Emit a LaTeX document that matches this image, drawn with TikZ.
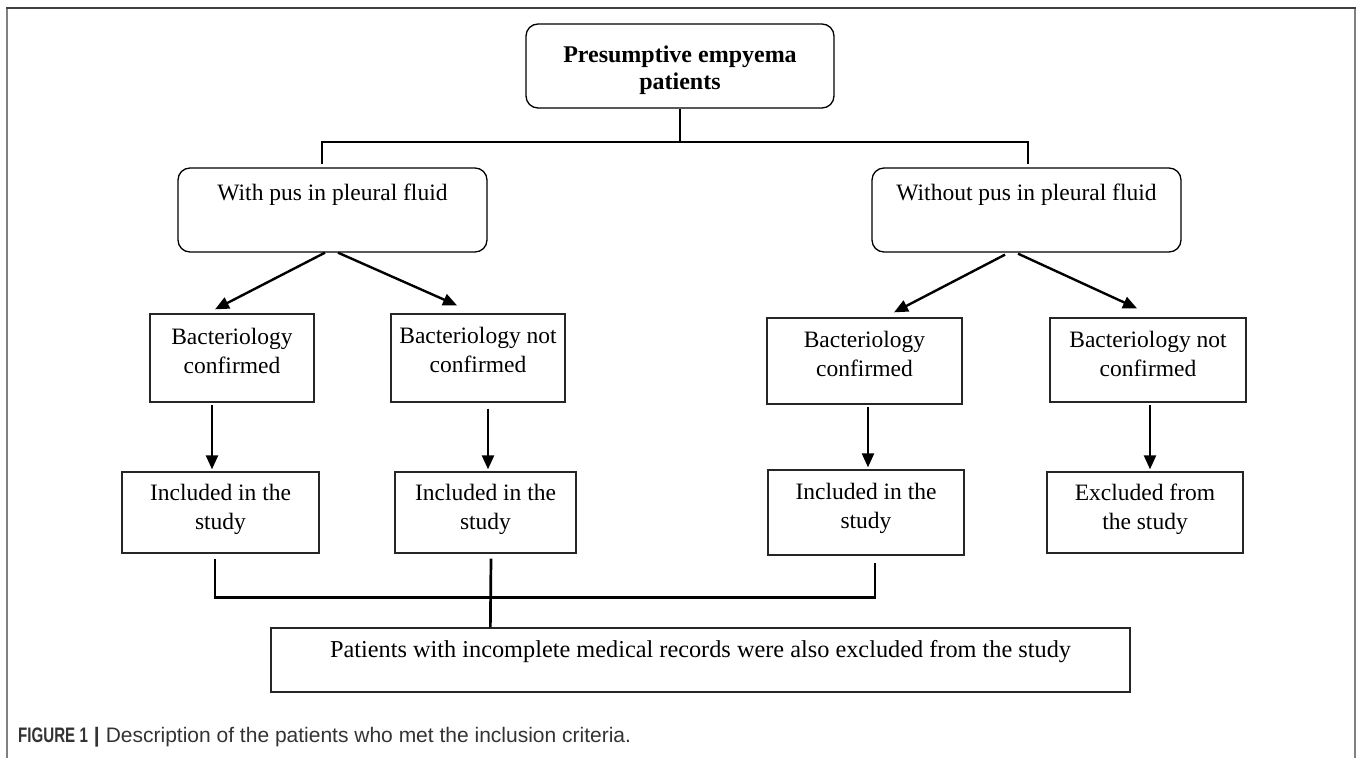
\documentclass[tikz,border=0pt]{standalone}
\usepackage{graphicx}
\usepackage{fontspec}
\setmainfont{Liberation Serif}
\newfontfamily\capfont{Liberation Sans}
\usetikzlibrary{arrows.meta,calc}
\begin{document}
\begin{tikzpicture}[x=1pt,y=-1pt,
  txt/.style={font=\fontsize{23.5}{29}\selectfont, align=center, inner sep=0pt, anchor=north},
  rbox/.style={draw=black, line width=1.3pt, rounded corners=12pt, inner sep=0pt},
  sbox/.style={draw=black!85, line width=1.3pt, inner sep=0pt},
  conn/.style={line width=2.7pt, black},
  arr/.style={line width=2.4pt, black, -{Triangle[length=14pt,width=12pt]}},
  frame/.style={line width=2pt, black!50}
]
\useasboundingbox (0,0) rectangle (1358,758);
% frame
\draw[frame] (7,758) -- (7,8);
\draw[frame] (1355,8) -- (1355,758);
\draw[line width=2pt, black!75] (6,8) -- (1356,8);

% top node
\node[rbox, minimum width=308pt, minimum height=84pt] (top) at (680,66) {};
\node[txt, font=\fontsize{24}{27}\selectfont\bfseries] (toptxt) at (680,46) {Presumptive empyema\\patients};

% middle nodes
\node[rbox, minimum width=309pt, minimum height=84pt] (mid1) at (332.5,210) {};
\node[txt] (mid1txt) at (332.5,184) {With pus in pleural fluid};
\node[rbox, minimum width=309pt, minimum height=84pt] (mid2) at (1026.5,210) {};
\node[txt] (mid2txt) at (1026.5,184) {Without pus in pleural fluid};

% level 3
\node[sbox, minimum width=164pt, minimum height=88pt] (b1) at (232,358) {};
\node[txt] (b1t) at (232,328) {Bacteriology\\confirmed};
\node[sbox, minimum width=174pt, minimum height=88pt] (b2) at (478,358) {};
\node[txt] (b2t) at (478,327) {Bacteriology not\\confirmed};
\node[sbox, minimum width=195pt, minimum height=86pt] (b3) at (864.5,361) {};
\node[txt] (b3t) at (864.5,331) {Bacteriology\\confirmed};
\node[sbox, minimum width=196pt, minimum height=84pt] (b4) at (1148,360) {};
\node[txt] (b4t) at (1148,331) {Bacteriology not\\confirmed};

% level 4
\node[sbox, minimum width=197pt, minimum height=81pt] (c1) at (220.5,512.5) {};
\node[txt] (c1t) at (220.5,484) {Included in the\\study};
\node[sbox, minimum width=181pt, minimum height=81pt] (c2) at (485.5,512.5) {};
\node[txt] (c2t) at (485.5,484) {Included in the\\study};
\node[sbox, minimum width=196pt, minimum height=85pt] (c3) at (866,512.5) {};
\node[txt] (c3t) at (866,483) {Included in the\\study};
\node[sbox, minimum width=196pt, minimum height=81pt] (c4) at (1145,512.5) {};
\node[txt] (c4t) at (1145,484) {Excluded from\\the study};

% bottom node
\node[sbox, minimum width=859pt, minimum height=64pt] (bot) at (700.5,660) {};
\node[txt, font=\fontsize{24.3}{29}\selectfont] (bott) at (700.5,640) {Patients with incomplete medical records were also excluded from the study};

% top connectors
\coordinate (hl) at (322,142);
\coordinate (hr) at (1028,142);
\draw[conn] (top.south) -- (top.south |- hl);
\draw[conn] ($(mid1.north -| hl)+(0,-3)$) -- (hl) -- (hr) -- ($(mid2.north -| hr)+(0,-3)$);

% diagonal arrows
\draw[arr] ($(mid1.south)+(-7.5,0)$) -- ($(b1.north)+(-17,-4)$);
\draw[arr] ($(mid1.south)+(5.5,0)$) -- ($(b2.north)+(-21,-8)$);
\draw[arr] ($(mid2.south)+(-21.5,2)$) -- ($(b3.north)+(29.5,-5)$);
\draw[arr] ($(mid2.south)+(-8.5,1)$) -- ($(b4.north)+(-11,-9)$);

% vertical arrows
\draw[arr] ($(b1.south)+(-20,2)$) -- ($(c1.north)+(-8.5,-2)$);
\draw[arr] ($(b2.south)+(10,6)$) -- ($(c2.north)+(2.5,-2)$);
\draw[arr] ($(b3.south)+(3.5,2)$) -- ($(c3.north)+(2,-2)$);
\draw[arr] ($(b4.south)+(2,2)$) -- ($(c4.north)+(5,-2)$);

% bottom connectors
\draw[conn] ($(c1.south)+(-5.5,5)$) -- ($(c1.south)+(-5.5,44)$) -- ($(c3.south)+(9,42)$) -- ($(c3.south)+(9,7)$);
\draw[conn] ($(c2.south)+(5.5,5)$) -- ($(bot.north west)+(220,0)$);

% caption
\node[anchor=base west, inner sep=0pt, font=\capfont\fontsize{21}{24}\selectfont, text=black!80] (cap) at (18,742)
  {\scalebox{0.72}[1]{\bfseries FIGURE 1}\hspace{6pt}{\bfseries |}\hspace{6pt}Description of the patients who met the inclusion criteria.};
\end{tikzpicture}
\end{document}
